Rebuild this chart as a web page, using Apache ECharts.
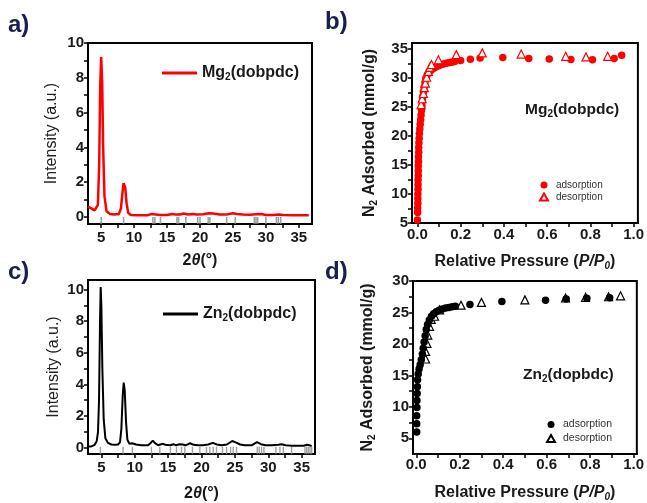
<!DOCTYPE html>
<html>
<head>
<meta charset="utf-8">
<script src="https://cdn.jsdelivr.net/npm/echarts@6/dist/echarts.min.js"></script>
<style>
html, body { margin: 0; padding: 0; background: #fff; }
#chart { width: 647px; height: 503px; }
</style>
</head>
<body>
<div id="chart"></div>
<script>
// XRD patterns [2theta, intensity]
var mgXrd = [
    [3.0, 0.6], [3.5, 0.5], [4.0, 0.38], [4.3, 0.4], [4.5, 0.7], [4.7, 3.0], [4.85, 7.5],
    [5.0, 9.2], [5.15, 7.8], [5.3, 4.0], [5.5, 1.2], [5.8, 0.35], [6.3, 0.18], [7.0, 0.14],
    [7.7, 0.18], [8.0, 0.5], [8.2, 1.3], [8.4, 1.95], [8.5, 2.0], [8.65, 1.7], [8.85, 0.8],
    [9.1, 0.25], [9.5, 0.12], [10.5, 0.1], [12.0, 0.1], [12.6, 0.17], [12.9, 0.25], [13.3, 0.15],
    [14.0, 0.12], [15.0, 0.12], [15.8, 0.18], [16.3, 0.14], [17.0, 0.15], [17.5, 0.2], [18.2, 0.15],
    [18.8, 0.18], [19.5, 0.15], [20.5, 0.16], [21.3, 0.22], [22.0, 0.2], [23.0, 0.15], [24.0, 0.14],
    [25.0, 0.22], [25.6, 0.18], [26.5, 0.14], [27.5, 0.13], [28.5, 0.16], [29.3, 0.17], [30.0, 0.12],
    [31.0, 0.12], [32.0, 0.15], [32.6, 0.12], [34.0, 0.1], [35.0, 0.1], [36.5, 0.1]
];
var znXrd = [
    [3.0, 0.08], [3.5, 0.08], [4.0, 0.18], [4.3, 0.4], [4.5, 1.0], [4.65, 3.0], [4.8, 8.0],
    [4.9, 10.15], [5.0, 9.0], [5.15, 5.0], [5.35, 1.8], [5.6, 0.6], [6.0, 0.3], [6.5, 0.2],
    [7.0, 0.18], [7.5, 0.2], [7.8, 0.35], [8.0, 1.2], [8.2, 3.3], [8.35, 4.12], [8.5, 3.6],
    [8.7, 1.6], [8.9, 0.5], [9.2, 0.25], [9.6, 0.28], [9.8, 0.3], [10.2, 0.2], [11.0, 0.15],
    [12.0, 0.15], [12.4, 0.3], [12.7, 0.45], [13.0, 0.3], [13.5, 0.15], [14.2, 0.25], [14.6, 0.18],
    [15.3, 0.15], [15.8, 0.22], [16.2, 0.15], [16.7, 0.22], [17.2, 0.2], [17.6, 0.15], [18.3, 0.28],
    [18.8, 0.18], [19.5, 0.15], [20.2, 0.15], [21.0, 0.2], [21.7, 0.3], [22.3, 0.2], [23.0, 0.16],
    [23.8, 0.2], [24.6, 0.42], [25.2, 0.32], [25.8, 0.2], [26.5, 0.15], [27.5, 0.15], [28.3, 0.35],
    [28.9, 0.22], [29.6, 0.15], [30.5, 0.15], [31.5, 0.18], [32.0, 0.22], [32.6, 0.15], [33.5, 0.12],
    [34.5, 0.12], [35.3, 0.12], [35.8, 0.18], [36.2, 0.15], [36.5, 0.1]
];
// simulated reflection positions (grey sticks)
var mgRefPeaks = [5.0, 8.4, 12.85, 13.15, 14.0, 16.5, 16.75, 17.85, 19.65, 20.0, 21.25, 21.5,
    24.05, 25.35, 28.25, 28.5, 28.75, 30.0, 31.6, 31.9, 32.25];
var znRefPeaks = [4.85, 8.25, 9.65, 12.5, 13.75, 15.35, 16.25, 17.0, 17.5, 18.65, 19.75, 20.75,
    21.25, 21.75, 22.25, 23.15, 23.75, 24.35, 24.75, 25.25, 28.35, 28.65, 29.0, 29.35, 31.15,
    31.75, 32.25, 33.5, 35.5, 35.75, 36.0, 36.25, 36.5];

// N2 isotherms [P/P0, mmol/g]
var mgAdsorption = [
    [0.000, 5.5], [0.001, 6.8], [0.001, 7.6], [0.002, 8.4], [0.002, 9.2], [0.002, 10.0], [0.003, 10.8],
    [0.003, 11.6], [0.003, 12.4], [0.004, 13.2], [0.004, 14.0], [0.004, 14.8], [0.005, 15.6],
    [0.005, 16.4], [0.006, 17.2], [0.006, 18.0], [0.007, 18.8], [0.008, 19.6], [0.009, 20.4],
    [0.011, 21.2], [0.013, 22.0], [0.015, 22.8], [0.017, 23.6], [0.019, 24.4], [0.021, 25.2],
    [0.023, 26.0], [0.025, 26.8], [0.028, 27.6], [0.031, 28.4], [0.035, 29.2], [0.039, 29.9],
    [0.045, 30.5], [0.052, 30.9], [0.06, 31.2], [0.068, 31.5], [0.077, 31.7], [0.087, 31.9],
    [0.097, 32.1], [0.108, 32.25], [0.12, 32.4], [0.132, 32.5], [0.145, 32.6], [0.158, 32.7],
    [0.172, 32.8], [0.2, 33.0], [0.245, 33.2], [0.29, 33.4], [0.395, 33.5], [0.515, 33.35],
    [0.61, 33.25], [0.71, 33.15], [0.81, 33.1], [0.91, 33.35], [0.945, 33.9]
];
var mgDesorption = [
    [0.017, 25.4], [0.022, 26.4], [0.028, 27.3], [0.032, 28.3], [0.037, 29.1], [0.043, 30.1],
    [0.051, 31.1], [0.057, 31.8], [0.065, 32.3], [0.097, 33.1], [0.18, 34.0], [0.3, 34.3],
    [0.48, 34.1], [0.686, 33.7], [0.78, 33.6], [0.88, 33.7]
];
var znAdsorption = [
    [0.002, 6.0], [0.002, 7.3], [0.002, 8.6], [0.003, 9.9], [0.003, 11.0], [0.004, 12.1],
    [0.005, 13.2], [0.006, 14.3], [0.009, 15.2], [0.013, 16.0], [0.018, 16.7], [0.023, 17.5],
    [0.028, 18.4], [0.032, 19.3], [0.036, 20.3], [0.041, 21.3], [0.046, 22.3], [0.052, 23.1],
    [0.06, 23.8], [0.07, 24.4], [0.08, 24.8], [0.092, 25.1], [0.105, 25.35], [0.12, 25.55],
    [0.135, 25.7], [0.15, 25.8], [0.165, 25.9], [0.18, 26.0], [0.247, 26.25], [0.394, 26.75],
    [0.595, 26.95], [0.69, 27.15], [0.785, 27.25], [0.89, 27.35]
];
var znDesorption = [
    [0.043, 17.6], [0.043, 18.8], [0.049, 20.1], [0.053, 21.4], [0.061, 22.8], [0.069, 23.9],
    [0.084, 24.4], [0.107, 25.4], [0.206, 26.15], [0.3, 26.6], [0.5, 27.0], [0.687, 27.3],
    [0.779, 27.4], [0.885, 27.5], [0.94, 27.65]
];

// tick positions / labels
var thetaTicks = [5, 7.5, 10, 12.5, 15, 17.5, 20, 22.5, 25, 27.5, 30, 32.5, 35];
var thetaLabels = [5, 10, 15, 20, 25, 30, 35];
var intensityTicks = [0, 1, 2, 3, 4, 5, 6, 7, 8, 9, 10];
var intensityLabels = [0, 2, 4, 6, 8, 10];
var pressureTicks = [0, 0.1, 0.2, 0.3, 0.4, 0.5, 0.6, 0.7, 0.8, 0.9, 1.0];
var pressureLabels = [0, 0.2, 0.4, 0.6, 0.8, 1.0];
var mgUptakeTicks = [5, 7.5, 10, 12.5, 15, 17.5, 20, 22.5, 25, 27.5, 30, 32.5, 35];
var mgUptakeLabels = [5, 10, 15, 20, 25, 30, 35];
var znUptakeTicks = [5, 7.5, 10, 12.5, 15, 17.5, 20, 22.5, 25, 27.5, 30];
var znUptakeLabels = [5, 10, 15, 20, 25, 30];

var RED = '#ff0000';
var INK = '#1a1a1a';
var FONT = 'Liberation Sans, Arial, sans-serif';

var richName = {
    b: { fontSize: 16, fontWeight: 'bold', color: INK, fontFamily: FONT },
    n: { fontSize: 16, color: '#222', fontFamily: FONT },
    i: { fontSize: 16, fontWeight: 'bold', fontStyle: 'italic', color: INK, fontFamily: FONT },
    s: { fontSize: 10, fontWeight: 'bold', color: INK, fontFamily: FONT, padding: [8, 0, 0, 0] },
    is: { fontSize: 10, fontWeight: 'bold', fontStyle: 'italic', color: INK, fontFamily: FONT, padding: [8, 0, 0, 0] }
};

function axisBase(ticks, labels, fmt, margin) {
    return {
        type: 'value',
        axisLine: { show: true, onZero: false, lineStyle: { color: '#000', width: 2 } },
        axisTick: { show: true, inside: false, length: 4, customValues: ticks, lineStyle: { color: '#000', width: 1.5 } },
        axisLabel: {
            customValues: labels,
            margin: margin,
            fontSize: 15,
            fontWeight: 'bold',
            color: INK,
            fontFamily: FONT,
            formatter: fmt
        },
        splitLine: { show: false },
        nameLocation: 'middle',
        nameTextStyle: { rich: richName }
    };
}

function xAxis(grid, min, max, ticks, labels, fmt, name, gap, margin) {
    var a = axisBase(ticks, labels, fmt, margin);
    a.gridIndex = grid; a.min = min; a.max = max;
    a.name = name; a.nameGap = gap;
    return a;
}

function yAxis(grid, min, max, ticks, labels, name, gap) {
    var a = axisBase(ticks, labels, null, 4);
    a.gridIndex = grid; a.min = min; a.max = max;
    a.name = name; a.nameGap = gap;
    return a;
}

var fmt1 = function (v) { return v.toFixed(1); };
var thetaName = '{b|2}{i|θ}{b|(°)}';
var pressureName = '{b|Relative Pressure (}{i|P/P}{is|0}{b|)}';
var uptakeName = '{b|N}{s|2}{b| Adsorbed (mmol/g)}';
var intensityName = '{n|Intensity (a.u.)}';

var labelRich = {
    b: { fontSize: 16, fontWeight: 'bold', color: INK, fontFamily: FONT },
    s: { fontSize: 10, fontWeight: 'bold', color: INK, fontFamily: FONT, padding: [8, 0, 0, 0] }
};
var innerRich = {
    b: { fontSize: 15.5, fontWeight: 'bold', color: INK, fontFamily: FONT },
    s: { fontSize: 10, fontWeight: 'bold', color: INK, fontFamily: FONT, padding: [8, 0, 0, 0] }
};
var letterStyle = { fontSize: 24, fontWeight: 'bold', color: '#1b1f4b', fontFamily: FONT };

function refSticks(peaks, y) {
    return peaks.map(function (p) { return [p, y]; });
}

var chart = echarts.init(document.getElementById('chart'));

var option = {
    backgroundColor: '#fff',
    animation: false,
    title: [
        { text: 'a)', left: 3, top: 8, textStyle: letterStyle },
        { text: 'b)', left: 320, top: 5, textStyle: letterStyle },
        { text: 'c)', left: 3, top: 255, textStyle: letterStyle },
        { text: 'd)', left: 320, top: 255, textStyle: letterStyle },
        { text: '{b|Mg}{s|2}{b|(dobpdc)}', left: 520, top: 96, textStyle: { rich: innerRich } },
        { text: '{b|Zn}{s|2}{b|(dopbdc)}', left: 518, top: 361, textStyle: { rich: innerRich } }
    ],
    grid: [
        { left: 88, top: 43, width: 224, height: 181, show: true, borderColor: '#000', borderWidth: 2 },
        { left: 412, top: 43, width: 227, height: 180, show: true, borderColor: '#000', borderWidth: 2 },
        { left: 88, top: 280, width: 227, height: 181, show: true, borderColor: '#000', borderWidth: 2 },
        { left: 413, top: 281, width: 225, height: 181, show: true, borderColor: '#000', borderWidth: 2 }
    ],
    xAxis: [
        xAxis(0, 3, 37, thetaTicks, thetaLabels, null, thetaName, 29, 6),
        xAxis(1, -0.025, 1.02, pressureTicks, pressureLabels, fmt1, pressureName, 30, 4),
        xAxis(2, 3, 37, thetaTicks, thetaLabels, null, thetaName, 32, 6),
        xAxis(3, -0.015, 1.015, pressureTicks, pressureLabels, fmt1, pressureName, 30, 3)
    ],
    yAxis: [
        yAxis(0, -0.4, 10, intensityTicks, intensityLabels, intensityName, 28),
        yAxis(1, 5, 36, mgUptakeTicks, mgUptakeLabels, uptakeName, 33),
        yAxis(2, -0.4, 10.6, intensityTicks, intensityLabels, intensityName, 26),
        yAxis(3, 2.5, 30, znUptakeTicks, znUptakeLabels, uptakeName, 36)
    ],
    legend: [
        {
            data: ['Mg2(dobpdc)'], left: 157, top: 60, icon: 'rect', itemWidth: 35, itemHeight: 3,
            formatter: function () { return '{b|Mg}{s|2}{b|(dobpdc)}'; },
            textStyle: { rich: labelRich }
        },
        {
            data: ['Zn2(dobpdc)'], left: 158, top: 301, icon: 'rect', itemWidth: 35, itemHeight: 3,
            formatter: function () { return '{b|Zn}{s|2}{b|(dobpdc)}'; },
            textStyle: { rich: labelRich }
        },
        {
            data: ['Mg adsorption', 'Mg desorption'], orient: 'vertical', left: 534, top: 175,
            itemWidth: 8, itemHeight: 7, itemGap: 2,
            formatter: function (n) { return n.split(' ')[1]; },
            textStyle: { fontSize: 10, color: '#333', fontFamily: FONT, padding: [0, 0, 0, 3] }
        },
        {
            data: ['Zn adsorption', 'Zn desorption'], orient: 'vertical', left: 541, top: 414,
            itemWidth: 8, itemHeight: 7, itemGap: 3,
            formatter: function (n) { return n.split(' ')[1]; },
            textStyle: { fontSize: 10.5, color: '#333', fontFamily: FONT, padding: [0, 0, 0, 3] }
        }
    ],
    series: [
        {
            name: 'Mg2(dobpdc)', type: 'line', xAxisIndex: 0, yAxisIndex: 0, data: mgXrd,
            showSymbol: false, symbol: 'none', clip: true,
            lineStyle: { color: RED, width: 2.5 }, itemStyle: { color: RED }
        },
        {
            name: 'mgRef', type: 'scatter', xAxisIndex: 0, yAxisIndex: 0, data: refSticks(mgRefPeaks, -0.2),
            symbol: 'rect', symbolSize: [1.6, 7], itemStyle: { color: '#8a8a8a' }, z: 1
        },
        {
            name: 'Zn2(dobpdc)', type: 'line', xAxisIndex: 2, yAxisIndex: 2, data: znXrd,
            showSymbol: false, symbol: 'none', clip: true,
            lineStyle: { color: '#000', width: 2 }, itemStyle: { color: '#000' }
        },
        {
            name: 'znRef', type: 'scatter', xAxisIndex: 2, yAxisIndex: 2, data: refSticks(znRefPeaks, -0.18),
            symbol: 'rect', symbolSize: [1.4, 7.5], itemStyle: { color: '#8a8a8a' }, z: 1
        },
        {
            name: 'Mg adsorption', type: 'scatter', xAxisIndex: 1, yAxisIndex: 1, data: mgAdsorption,
            symbol: 'circle', symbolSize: 7.5, itemStyle: { color: RED, opacity: 1 }
        },
        {
            name: 'Mg desorption', type: 'scatter', xAxisIndex: 1, yAxisIndex: 1, data: mgDesorption,
            symbol: 'triangle', symbolSize: 8,
            itemStyle: { color: '#fff', borderColor: RED, borderWidth: 1.2, opacity: 1 }
        },
        {
            name: 'Zn desorption', type: 'scatter', xAxisIndex: 3, yAxisIndex: 3, data: znDesorption,
            symbol: 'triangle', symbolSize: 8,
            itemStyle: { color: '#fff', borderColor: '#000', borderWidth: 1.2, opacity: 1 }
        },
        {
            name: 'Zn adsorption', type: 'scatter', xAxisIndex: 3, yAxisIndex: 3, data: znAdsorption,
            symbol: 'circle', symbolSize: 7.5, itemStyle: { color: '#000', opacity: 1 }
        }
    ]
};

chart.setOption(option);
</script>
</body>
</html>
